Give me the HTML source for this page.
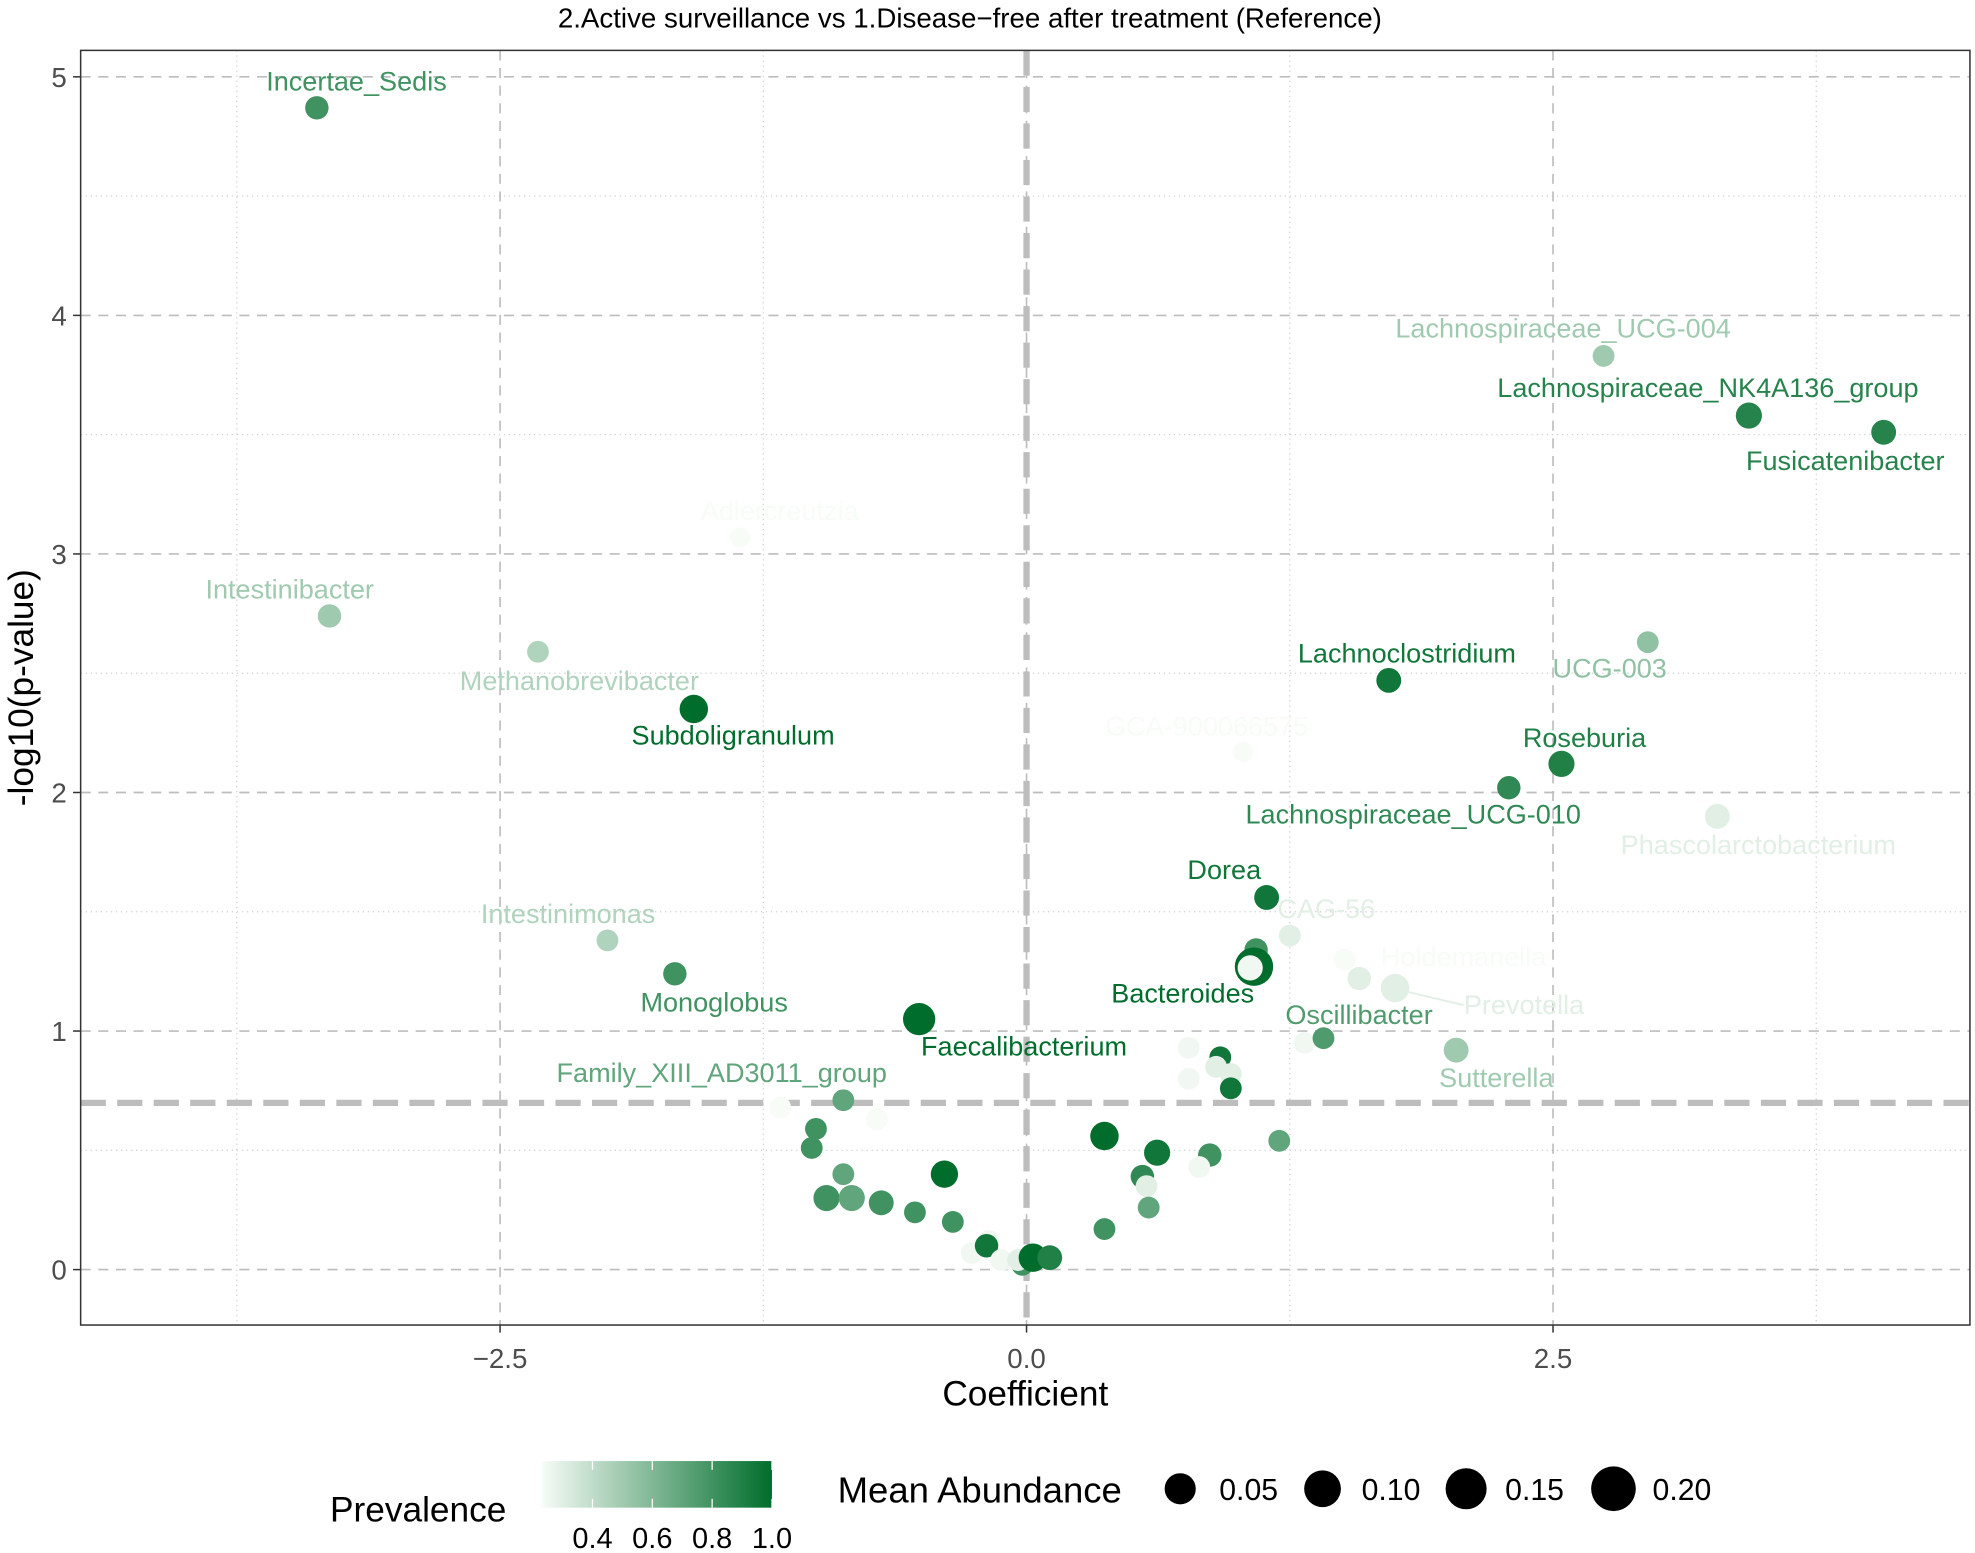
<!DOCTYPE html>
<html><head><meta charset="utf-8"><style>
html,body{margin:0;padding:0;background:#fff}
svg{display:block}
text{font-family:"Liberation Sans",sans-serif}
</style></head><body>
<svg id="chart" width="1975" height="1553" viewBox="0 0 1568 1233" xmlns="http://www.w3.org/2000/svg">
<rect x="0" y="0" width="1568" height="1233" fill="#fff"/>
<text x="770" y="22" font-size="22" text-anchor="middle" fill="#000">2.Active surveillance vs 1.Disease−free after treatment (Reference)</text>
<g id="grid"></g>
<g id="points"></g>
<g id="labels"></g>
<rect x="64" y="40" width="1500" height="1012" fill="none" stroke="#333" stroke-width="1.2"/>
<g id="axes"></g>
<text x="814" y="1116" font-size="28" text-anchor="middle" fill="#000">Coefficient</text>
<text transform="translate(26,546) rotate(-90)" font-size="28" text-anchor="middle" fill="#000">-log10(p-value)</text>
<g id="legend"></g>
</svg>
<script>
const names=["Incertae_Sedis","Lachnospiraceae_UCG-004","Lachnospiraceae_NK4A136_group","Fusicatenibacter","Adlercreutzia","Intestinibacter","Methanobrevibacter","Subdoligranulum","Lachnoclostridium","UCG-003","Roseburia","GCA-900066575","Lachnospiraceae_UCG-010","Phascolarctobacterium","Dorea","CAG-56","Intestinimonas","Monoglobus","Bacteroides","Holdemanella","Prevotella","Faecalibacterium","Oscillibacter","Sutterella","Family_XIII_AD3011_group"];
const coefs=[-3.37,2.74,3.43,4.07,-1.36,-3.31,-2.32,-1.58,1.72,2.95,2.54,1.03,2.29,3.28,1.14,1.25,-1.99,-1.67,1.08,1.51,1.75,-0.51,1.41,2.04,-0.87];
const logp=[4.87,3.83,3.58,3.51,3.07,2.74,2.59,2.35,2.47,2.63,2.12,2.17,2.02,1.90,1.56,1.40,1.38,1.24,1.27,1.30,1.18,1.05,0.97,0.92,0.71];
const prev=[0.8,0.5,0.88,0.88,0.2,0.5,0.45,1.0,0.95,0.55,0.9,0.15,0.85,0.3,0.95,0.3,0.45,0.8,1.0,0.15,0.3,1.0,0.75,0.5,0.7];
const abund=[0.04,0.03,0.06,0.05,0.02,0.04,0.03,0.08,0.05,0.03,0.06,0.02,0.04,0.05,0.05,0.03,0.03,0.04,0.2,0.03,0.08,0.12,0.03,0.05,0.03];
// label positions (layout only)
const labelPos=[[283,72],[1241,268],[1356,315],[1465,373],[619,413],[230,475],[460,548],[582,591],[1117,526],[1278,538],[1258,593],[958,584],[1122,654],[1396,678],[972,698],[1053,729],[451,733],[567,803],[939,796],[1162,767],[1210,805],[813,838],[1079,813],[1188,863],[573,859]];
// unlabeled points
const coefs2=[1.58,1.09,0.77,0.92,0.90,0.97,0.77,0.97,1.32,-1.17,-0.71,-1.00,-1.02,0.37,0.62,1.20,0.87,0.82,0.55,0.57,-0.39,-0.87,-0.95,-0.83,-0.69,-0.53,-0.35,0.58,0.37,-0.26,-0.18,-0.19,-0.12,-0.02,-0.04,0.03,0.11,1.10];
const logp2=[1.22,1.34,0.93,0.89,0.85,0.82,0.80,0.76,0.95,0.68,0.63,0.59,0.51,0.56,0.49,0.54,0.48,0.43,0.39,0.35,0.40,0.40,0.30,0.30,0.28,0.24,0.20,0.26,0.17,0.07,0.12,0.10,0.04,0.02,0.04,0.05,0.05,1.28];
const prev2=[0.3,0.8,0.25,0.95,0.3,0.3,0.25,0.95,0.25,0.2,0.12,0.8,0.8,1.0,0.95,0.7,0.8,0.25,0.85,0.3,1.0,0.7,0.8,0.7,0.8,0.8,0.8,0.7,0.8,0.25,0.25,0.95,0.25,0.8,0.3,1.0,0.9,0.2];
const abund2=[0.04,0.04,0.03,0.03,0.03,0.03,0.03,0.03,0.03,0.03,0.03,0.03,0.03,0.08,0.06,0.03,0.04,0.03,0.04,0.03,0.07,0.03,0.06,0.06,0.05,0.03,0.03,0.03,0.03,0.03,0.03,0.04,0.03,0.03,0.03,0.08,0.05,0.04];
const xTicks=[-2.5,0,2.5];
const xTickLabels=["−2.5","0.0","2.5"];
const yTicks=[0,1,2,3,4,5];
const sizeLegend=[0.05,0.10,0.15,0.20];
const prevTicks=[0.4,0.6,0.8,1.0];

const NS="http://www.w3.org/2000/svg";
const X=v=>815+v*167.2, Y=v=>1008-v*189.4;
const R=a=>4.5+Math.sqrt(a)*24;
function col(p){let t=Math.max(0,Math.min(1,(p-0.23)/0.77));
 const a=[247,252,247],b=[0,109,44];
 return `rgb(${a.map((c,i)=>Math.round(c+(b[i]-c)*t)).join(',')})`;}
function mk(tag,parent,attrs){const e=document.createElementNS(NS,tag);for(const k in attrs)e.setAttribute(k,attrs[k]);parent.appendChild(e);return e;}
const grid=document.getElementById('grid');
[-3.75,-1.25,1.25,3.75].forEach(v=>{const l=mk('line',grid,{x1:X(v),x2:X(v),y1:40,y2:1052,stroke:'#d0d0d0','stroke-width':1,'stroke-dasharray':'1,3'});

});
[0.5,1.5,2.5,3.5,4.5].forEach(v=>{const l=mk('line',grid,{x1:64,x2:1564,y1:Y(v),y2:Y(v),stroke:'#d0d0d0','stroke-width':1,'stroke-dasharray':'1,3'});

});
xTicks.forEach(v=>{const l=mk('line',grid,{x1:X(v),x2:X(v),y1:40,y2:1052,stroke:'#bdbdbd','stroke-width':1.3,'stroke-dasharray':'8,6'});

});
yTicks.forEach(v=>{const l=mk('line',grid,{x1:64,x2:1564,y1:Y(v),y2:Y(v),stroke:'#bdbdbd','stroke-width':1.3,'stroke-dasharray':'8,6'});

});
let th=mk('line',grid,{x1:64,x2:1564,y1:Y(0.699),y2:Y(0.699),stroke:'#bdbdbd','stroke-width':5,'stroke-dasharray':'20,9'});


let vz=mk('line',grid,{x1:X(0),x2:X(0),y1:40,y2:1052,stroke:'#bdbdbd','stroke-width':5,'stroke-dasharray':'20,9'});



const pts=document.getElementById('points');
coefs2.forEach((c,i)=>{const e=mk('circle',pts,{cx:X(c),cy:Y(logp2[i]),r:R(abund2[i]),fill:col(prev2[i])});

});
coefs.forEach((c,i)=>{const e=mk('circle',pts,{cx:X(c),cy:Y(logp[i]),r:R(abund[i]),fill:col(prev[i])});

});
// inner light point overlapping Bacteroides
let inner=mk('circle',pts,{cx:X(coefs[18])-3,cy:Y(logp[18])+1,r:10,fill:'#f1f8f2'});


const labs=document.getElementById('labels');
let ld=mk('line',labs,{x1:X(coefs[20])+10,y1:Y(logp[20])+3,x2:1162,y2:798,stroke:col(prev[20]),'stroke-width':1.5});


names.forEach((n,i)=>{const t=mk('text',labs,{x:labelPos[i][0],y:labelPos[i][1],'font-size':21.5,'text-anchor':'middle',fill:col(prev[i])});
t.textContent=n;

});

const ax=document.getElementById('axes');
xTicks.forEach((v,i)=>{mk('line',ax,{x1:X(v),x2:X(v),y1:1052,y2:1058,stroke:'#333','stroke-width':1.2});
const t=mk('text',ax,{x:X(v),y:1086,'font-size':22,'text-anchor':'middle',fill:'#4d4d4d'});t.textContent=xTickLabels[i];

});
yTicks.forEach(v=>{mk('line',ax,{x1:58,x2:64,y1:Y(v),y2:Y(v),stroke:'#333','stroke-width':1.2});
const t=mk('text',ax,{x:53,y:Y(v)+8,'font-size':22,'text-anchor':'end',fill:'#4d4d4d'});t.textContent=String(v);

});

const lg=document.getElementById('legend');
let pt=mk('text',lg,{x:262,y:1208,'font-size':28,fill:'#000'});pt.textContent='Prevalence';


const defs=mk('defs',lg,{});const gr=mk('linearGradient',defs,{id:'pg',x1:0,x2:1,y1:0,y2:0});
[0,0.25,0.5,0.75,1].forEach(f=>mk('stop',gr,{offset:f,'stop-color':col(0.23+f*0.77)}));
const PX=v=>430+(v-0.23)/0.2*47.5;
let cb=mk('rect',lg,{x:430,y:1160,width:PX(1.0)-430,height:37,fill:'url(#pg)'});


prevTicks.forEach(v=>{mk('line',lg,{x1:PX(v),x2:PX(v),y1:1160,y2:1167,stroke:'#fff','stroke-width':1});mk('line',lg,{x1:PX(v),x2:PX(v),y1:1190,y2:1197,stroke:'#fff','stroke-width':1});
const t=mk('text',lg,{x:PX(v),y:1229,'font-size':23,'text-anchor':'middle',fill:'#000'});t.textContent=v.toFixed(1);

});
let st=mk('text',lg,{x:665,y:1193,'font-size':29,fill:'#000'});st.textContent='Mean Abundance';


const lx=[937,1050,1164,1281];
sizeLegend.forEach((a,i)=>{const c=mk('circle',lg,{cx:lx[i],cy:1182,r:R(a)+2.5,fill:'#000'});


const t=mk('text',lg,{x:lx[i]+31,y:1191,'font-size':24,fill:'#000'});t.textContent=a.toFixed(2);

});
</script>
</body></html>
